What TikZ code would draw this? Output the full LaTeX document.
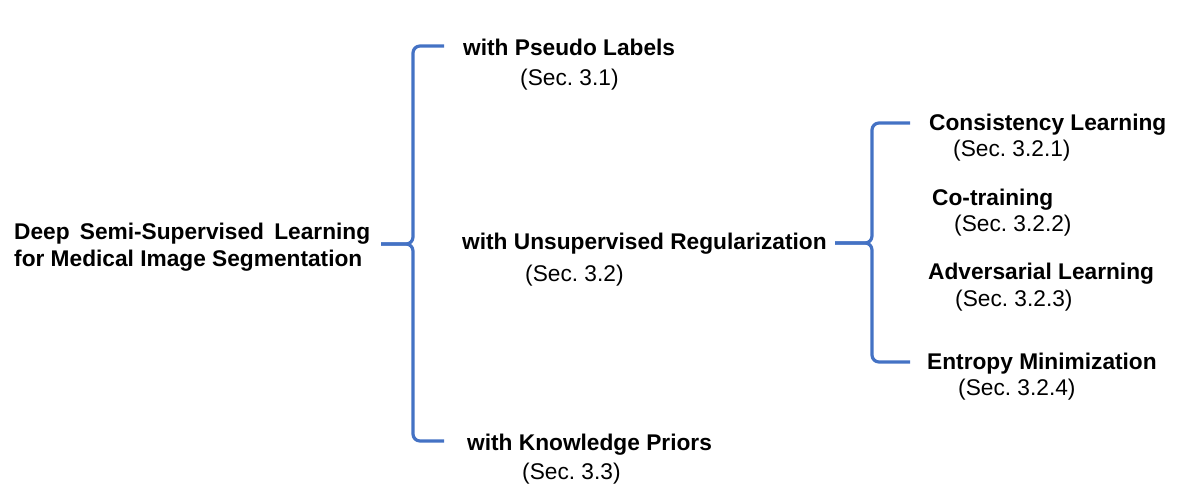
\documentclass[tikz,border=0pt]{standalone}
\usepackage{fontspec}
\setmainfont{Liberation Sans}
\frenchspacing
\definecolor{braceblue}{RGB}{68,114,196}
\begin{document}
\begin{tikzpicture}[x=1pt,y=-1pt,
  every node/.style={inner sep=0pt, anchor=base west, font=\fontsize{22.7}{27}\selectfont},
  head/.style={font=\fontsize{22.7}{27}\selectfont\bfseries},
  sec/.style={font=\fontsize{22.7}{27}\selectfont},
  bracel/.style={draw=braceblue, line width=3.2pt, rounded corners=7pt}]
\useasboundingbox (0,0) rectangle (1182,492);
% root
\node[head] (root) at (14,239) {\hbox to 356pt{Deep\hfill Semi-Supervised\hfill Learning}};
\node[head] (root2) at (14,266) {for Medical Image Segmentation};
% level 1
\node[head] (pl) at (463,56) {with Pseudo Labels};
\node[sec] (pls) at (520,86) {(Sec. 3.1)};
\node[head] (ur) at (462,249) {with Unsupervised Regularization};
\node[sec] (urs) at (525,281) {(Sec. 3.2)};
\node[head] (kp) at (467,450) {with Knowledge Priors};
\node[sec] (kps) at (522,479) {(Sec. 3.3)};
% level 2
\node[head] (cl) at (929,131) {Consistency Learning};
\node[sec] (cls) at (953,156) {(Sec. 3.2.1)};
\node[head] (ct) at (932,205) {Co-training};
\node[sec] (cts) at (954,231) {(Sec. 3.2.2)};
\node[head] (al) at (928,279) {Adversarial Learning};
\node[sec] (als) at (955,306) {(Sec. 3.2.3)};
\node[head] (em) at (927,369) {Entropy Minimization};
\node[sec] (ems) at (958,395) {(Sec. 3.2.4)};
% brace 1
\coordinate (b1tip) at (381,244);
\coordinate (b1top) at (444,46);
\coordinate (b1bot) at (444,441);
\draw[bracel] (b1top) -- (413,46) -- (413,244) -- (b1tip);
\draw[bracel] (b1tip) -- (413,244) -- (413,441) -- (b1bot);
% brace 2
\coordinate (b2tip) at (835,243);
\coordinate (b2top) at (910,123);
\coordinate (b2bot) at (910,362);
\draw[bracel] (b2top) -- (872,123) -- (872,243) -- (b2tip);
\draw[bracel] (b2tip) -- (872,243) -- (872,362) -- (b2bot);
\end{tikzpicture}
\end{document}
